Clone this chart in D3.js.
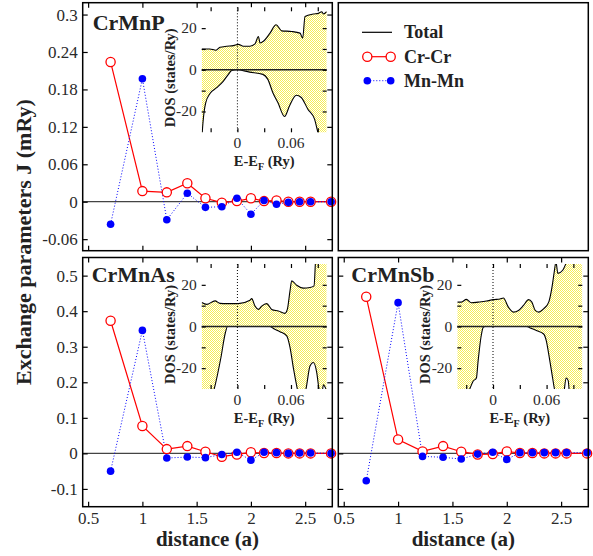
<!DOCTYPE html>
<html>
<head>
<meta charset="utf-8">
<script src="https://cdn.jsdelivr.net/npm/d3@7"></script>
<style>
  body { margin: 0; background: #fff; }
  svg { display: block; font-family: "Liberation Serif", "Times New Roman", serif; }
</style>
</head>
<body>
<div id="chart"></div>
<script>
// neighbour shell distances, units of a
const distances = [0.707, 1, 1.225, 1.414, 1.581, 1.732, 1.871, 2, 2.121, 2.236, 2.345, 2.449, 2.55, 2.739];

// exchange parameters J (mRy)
const crmnpCrCr = [0.224, 0.017, 0.015, 0.0295, 0.0055, -0.0015, 0.001, 0.0055, 0.001, 0.002, 0, 0, 0, 0];
const crmnpMnMn = [-0.036, 0.197, -0.029, 0.0135, -0.009, -0.008, 0.0055, -0.020, 0.002, -0.004, -0.001, 0, 0, 0];
const crmnasCrCr = [0.373, 0.077, 0.012, 0.0205, 0.0047, -0.0094, -0.003, 0.003, 0.001, 0.001, 0, 0, 0, 0];
const crmnasMnMn = [-0.050, 0.346, -0.013, -0.0104, -0.012, -0.003, 0.003, -0.019, 0.003, 0.002, 0, 0.001, 0.001, 0];
const crmnsbCrCr = [0.4405, 0.039, 0.0056, 0.0205, 0.0047, -0.003, -0.002, 0.0056, 0.001, 0.001, 0, 0, 0, 0];
const crmnsbMnMn = [-0.077, 0.424, -0.0085, -0.011, -0.016, -0.002, 0.003, -0.017, 0.002, 0.002, 0.002, 0.002, 0.002, 0.002];

// total DOS insets (states/Ry) vs E-EF (Ry), majority (up) and minority (down)
const crmnpUpE = [-0.04, -0.031, -0.024, -0.0195, -0.012, -0.0045, 0.001, 0.0067, 0.0141, 0.0197, 0.0235, 0.0253, 0.0291, 0.0365, 0.0433, 0.0496, 0.0608, 0.0701, 0.0731, 0.0757, 0.0851, 0.0907, 0.0944, 0.0963, 0.1];
const crmnpUp = [10, 10, 9.4, 10.8, 11.3, 11.6, 12.2, 11.3, 11.3, 12.4, 16, 12.9, 13.7, 17.6, 21.6, 18.7, 18.4, 17.6, 15.2, 25.6, 26.8, 27.1, 27.9, 26.8, 27.9];
const crmnpDnE = [-0.04, -0.0385, -0.0356, -0.0307, -0.0232, -0.0157, -0.0101, -0.0064, -0.0008, 0.0136, 0.0285, 0.0341, 0.0397, 0.0453, 0.0528, 0.0584, 0.0659, 0.0715, 0.0789, 0.0864, 0.0901, 0.1];
const crmnpDn = [-34, -25, -16, -11.4, -8.6, -5.4, -2.2, -0.3, 0, -1.1, -2.2, -4.6, -11, -15.7, -22.4, -17.3, -12.2, -13.3, -18.9, -23.7, -30, -40];

const crmnasUpE = [-0.04, -0.0344, -0.0251, -0.0195, -0.012, 0.0011, 0.0141, 0.016, 0.0197, 0.0235, 0.0272, 0.0328, 0.0384, 0.0459, 0.0533, 0.0559, 0.0589, 0.0608, 0.0664, 0.0739, 0.0813, 0.0858, 0.088, 0.1];
const crmnasUp = [11.5, 10.6, 12.3, 11.1, 11, 11, 12.6, 13.4, 9.8, 8.2, 9.8, 11, 8.2, 7.4, 6.3, 8.2, 17.1, 21.9, 19.8, 18.4, 18.7, 19.5, 34, 40];
const crmnasDnE = [-0.04, -0.026, -0.0185, -0.0135, -0.011, 0.0365, 0.0403, 0.0477, 0.0552, 0.0589, 0.0627, 0.0671, 0.0701, 0.0768, 0.0813, 0.085, 0.0888, 0.0914, 0.0944, 0.0963, 0.1];
const crmnasDn = [-45, -30, -15, -3, 0, 0, -1, -2.5, -4.5, -10, -20, -30, -36, -30, -19, -17.3, -22, -30, -33, -28, -31];

const crmnsbUpE = [-0.04, -0.0355, -0.0298, -0.0242, -0.0167, -0.0073, 0.0003, 0.0078, 0.0116, 0.0172, 0.0228, 0.0285, 0.0341, 0.0398, 0.0435, 0.0473, 0.0511, 0.0567, 0.0624, 0.0661, 0.0685, 0.0705, 0.0726, 0.078, 0.0835, 0.1];
const crmnsbUp = [11.7, 11.7, 13, 11.4, 11.7, 12.2, 12.9, 13.2, 13.7, 9.3, 6.9, 7.7, 10.1, 12.9, 11.7, 7.7, 6.9, 8.5, 11.7, 19, 26, 31, 25.5, 27, 32, 40];
const crmnsbDnE = [-0.04, -0.0261, -0.0223, -0.0186, -0.0167, -0.0129, -0.011, -0.0091, 0.0379, 0.0417, 0.0492, 0.0567, 0.0597, 0.0624, 0.0661, 0.0688, 0.0736, 0.0793, 0.0819, 0.0842, 0.0861, 0.1];
const crmnsbDn = [-40, -30, -26.3, -24.7, -16.6, -3.6, -0.4, 0, 0, -0.7, -2, -3.6, -6.9, -13.3, -23, -30, -38, -32, -24.7, -26, -34, -40];

// ticks
const xTicks = [0.5, 1, 1.5, 2, 2.5];
const crmnpYTicks = [-0.06, 0, 0.06, 0.12, 0.18, 0.24, 0.3];
const crmnasYTicks = [-0.1, 0, 0.1, 0.2, 0.3, 0.4, 0.5];
const insetXTicks = [-0.03, 0, 0.03, 0.06, 0.09];
const insetXLabels = [0, 0.06];
const insetYTicks = [-20, -10, 0, 10, 20];
const insetYLabels = [-20, 0, 20];
const legendLabels = ["Total", "Cr-Cr", "Mn-Mn"];

const W = 593, H = 556;
const svg = d3.select("#chart").append("svg").attr("width", W).attr("height", H);

// dotted yellow fill for DOS
const pat = svg.append("defs").append("pattern")
  .attr("id", "dots").attr("width", 2).attr("height", 2).attr("patternUnits", "userSpaceOnUse");
pat.append("rect").attr("width", 2).attr("height", 2).attr("fill", "#ffffff");
pat.append("rect").attr("width", 1).attr("height", 1).attr("fill", "#f7ee55");
pat.append("rect").attr("x", 1).attr("y", 1).attr("width", 1).attr("height", 1).attr("fill", "#f7ee55");

const fmt = d => String(+d.toFixed(2));
const xDomain = [0.45, 2.75];

function ticksOnly(g) {
  g.select(".domain").remove();
  g.selectAll("line").attr("stroke", "#000").attr("stroke-width", 1.2);
}

function drawPanel(p) {
  const x = d3.scaleLinear().domain(xDomain).range([p.x0, p.x1]);
  const y = d3.scaleLinear().domain(p.yDomain).range([p.y1, p.y0]);
  const g = svg.append("g");

  if (p.cr) {
    // zero line
    g.append("line").attr("x1", p.x0).attr("x2", p.x1).attr("y1", y(0)).attr("y2", y(0))
      .attr("stroke", "#444").attr("stroke-width", 1.3);

    // ticks
    g.append("g").attr("transform", `translate(0,${p.y1})`)
      .call(d3.axisBottom(x).tickValues(xTicks).tickSize(-5).tickPadding(5)
        .tickFormat(p.xLabels ? fmt : ""))
      .call(ticksOnly);
    g.append("g").attr("transform", `translate(0,${p.y0})`)
      .call(d3.axisTop(x).tickValues(xTicks).tickSize(-5).tickFormat("")).call(ticksOnly);
    g.append("g").attr("transform", `translate(${p.x0},0)`)
      .call(d3.axisLeft(y).tickValues(p.yTicks).tickSize(-5).tickPadding(5)
        .tickFormat(p.yLabels ? fmt : ""))
      .call(ticksOnly);
    g.append("g").attr("transform", `translate(${p.x1},0)`)
      .call(d3.axisRight(y).tickValues(p.yTicks).tickSize(-5).tickFormat("")).call(ticksOnly);
    g.selectAll(".tick text").attr("font-family", "Liberation Serif").attr("font-size", 17).attr("fill", "#2a2a2a");

    // Cr-Cr and Mn-Mn
    const cr = distances.map((d, i) => [d, p.cr[i]]);
    const mn = distances.map((d, i) => [d, p.mn[i]]);
    const line = d3.line().x(d => x(d[0])).y(d => y(d[1]));
    g.append("path").attr("d", line(cr)).attr("fill", "none").attr("stroke", "#ff0000").attr("stroke-width", 1.2);
    g.append("path").attr("d", line(mn)).attr("fill", "none").attr("stroke", "#0000ff")
      .attr("stroke-width", 1).attr("stroke-dasharray", "1,2");
    g.selectAll(".cr").data(cr).join("circle")
      .attr("cx", d => x(d[0])).attr("cy", d => y(d[1])).attr("r", 4.6)
      .attr("fill", "#fff").attr("stroke", "#ff0000").attr("stroke-width", 1.3);
    g.selectAll(".mn").data(mn).join("circle")
      .attr("cx", d => x(d[0])).attr("cy", d => y(d[1])).attr("r", 3.8)
      .attr("fill", "#0000ff");

    g.append("text").attr("x", p.x0 + p.nameDx).attr("y", p.y0 + p.nameDy)
      .attr("font-size", 22).attr("font-weight", "bold").attr("fill", "#222").text(p.name);

    drawInset(p.x0 + 119, p.y0 + (p.insetTop || 5), p.dos);
  }

  g.append("rect").attr("x", p.x0).attr("y", p.y0).attr("width", p.x1 - p.x0).attr("height", p.y1 - p.y0)
    .attr("fill", "none").attr("stroke", "#000").attr("stroke-width", 1.5);
}

let clipId = 0;
function drawInset(ix, iy, dos) {
  const w = 125, h = 125;
  const x = d3.scaleLinear().domain([-0.04, 0.10]).range([ix, ix + w]);
  const y = d3.scaleLinear().domain([-30, 30]).range([iy + h, iy]);
  const g = svg.append("g");
  const id = "clip" + (clipId++);
  g.append("clipPath").attr("id", id).append("rect").attr("x", ix).attr("y", iy).attr("width", w).attr("height", h);
  g.append("rect").attr("x", ix).attr("y", iy).attr("width", w).attr("height", h).attr("fill", "#fff");

  const up = dos.upE.map((e, i) => [e, dos.up[i]]);
  const dn = dos.dnE.map((e, i) => [e, dos.dn[i]]);
  const area = d3.area().x(d => x(d[0])).y0(y(0)).y1(d => y(d[1])).curve(d3.curveMonotoneX);
  const line = d3.line().x(d => x(d[0])).y(d => y(d[1])).curve(d3.curveMonotoneX);
  const c = g.append("g").attr("clip-path", `url(#${id})`);
  c.append("path").attr("d", area(up)).attr("fill", "url(#dots)");
  c.append("path").attr("d", area(dn)).attr("fill", "url(#dots)");
  c.append("path").attr("d", line(up)).attr("fill", "none").attr("stroke", "#000").attr("stroke-width", 1.1);
  c.append("path").attr("d", line(dn)).attr("fill", "none").attr("stroke", "#000").attr("stroke-width", 1.1);

  g.append("line").attr("x1", ix).attr("x2", ix + w).attr("y1", y(0)).attr("y2", y(0))
    .attr("stroke", "#222").attr("stroke-width", 1.4);
  g.append("line").attr("x1", x(0)).attr("x2", x(0)).attr("y1", iy).attr("y2", iy + h)
    .attr("stroke", "#000").attr("stroke-width", 1).attr("stroke-dasharray", "1,2");

  g.append("g").attr("transform", `translate(0,${iy + h})`)
    .call(d3.axisBottom(x).tickValues(insetXTicks).tickSize(-4).tickFormat("")).call(ticksOnly);
  g.append("g").attr("transform", `translate(0,${iy})`)
    .call(d3.axisTop(x).tickValues(insetXTicks).tickSize(-4).tickFormat("")).call(ticksOnly);
  g.append("g").attr("transform", `translate(${ix},0)`)
    .call(d3.axisLeft(y).tickValues(insetYTicks).tickSize(-4).tickFormat("")).call(ticksOnly);
  g.append("g").attr("transform", `translate(${ix + w},0)`)
    .call(d3.axisRight(y).tickValues(insetYTicks).tickSize(-4).tickFormat("")).call(ticksOnly);

  g.selectAll(".xl").data(insetXLabels).join("text")
    .attr("x", d => x(d)).attr("y", iy + h + 16).attr("text-anchor", "middle")
    .attr("font-size", 15.5).attr("fill", "#2a2a2a").text(fmt);
  g.selectAll(".yl").data(insetYLabels).join("text")
    .attr("x", ix - 5).attr("y", d => y(d) + 5).attr("text-anchor", "end")
    .attr("font-size", 15.5).attr("fill", "#2a2a2a").text(d => String(d));

  const t = g.append("text").attr("x", ix + w / 2).attr("y", iy + h + 34).attr("text-anchor", "middle")
    .attr("font-size", 14.5).attr("font-weight", "bold").attr("fill", "#222");
  t.append("tspan").text("E-E");
  t.append("tspan").attr("font-size", 10).attr("dy", 4).text("F");
  t.append("tspan").attr("dy", -4).text(" (Ry)");

  g.append("text").attr("transform", `translate(${ix - 27},${iy + h / 2 + 8}) rotate(-90)`)
    .attr("text-anchor", "middle").attr("font-size", 14.5).attr("font-weight", "bold").attr("fill", "#222")
    .text("DOS (states/Ry)");
}

const L = [82.7, 332.3], R = [338.3, 588.3], T = [2.7, 250.7], B = [257.5, 506.7];

drawPanel({ x0: L[0], x1: L[1], y0: T[0], y1: T[1], yDomain: [-0.0785, 0.319], yTicks: crmnpYTicks,
  yLabels: true, xLabels: false, name: "CrMnP", nameDx: 10, nameDy: 27.5, cr: crmnpCrCr, mn: crmnpMnMn, insetTop: 4.6,
  dos: { upE: crmnpUpE, up: crmnpUp, dnE: crmnpDnE, dn: crmnpDn } });
drawPanel({ x0: R[0], x1: R[1], y0: T[0], y1: T[1], yDomain: [-0.0785, 0.319] });
drawPanel({ x0: L[0], x1: L[1], y0: B[0], y1: B[1], yDomain: [-0.15, 0.551], yTicks: crmnasYTicks,
  yLabels: true, xLabels: true, name: "CrMnAs", nameDx: 9, nameDy: 24, cr: crmnasCrCr, mn: crmnasMnMn, insetTop: 6.5,
  dos: { upE: crmnasUpE, up: crmnasUp, dnE: crmnasDnE, dn: crmnasDn } });
drawPanel({ x0: R[0], x1: R[1], y0: B[0], y1: B[1], yDomain: [-0.15, 0.551], yTicks: crmnasYTicks,
  yLabels: false, xLabels: true, name: "CrMnSb", nameDx: 13, nameDy: 24, cr: crmnsbCrCr, mn: crmnsbMnMn, insetTop: 6.5,
  dos: { upE: crmnsbUpE, up: crmnsbUp, dnE: crmnsbDnE, dn: crmnsbDn } });

// legend in the empty panel
const lg = svg.append("g").attr("font-size", 18).attr("font-weight", "bold").attr("fill", "#222");
const ly = [32.3, 56.7, 80.7];
lg.append("line").attr("x1", 362).attr("x2", 392).attr("y1", ly[0]).attr("y2", ly[0]).attr("stroke", "#000").attr("stroke-width", 1.2);
lg.append("line").attr("x1", 367.3).attr("x2", 390.7).attr("y1", ly[1]).attr("y2", ly[1]).attr("stroke", "#ff0000").attr("stroke-width", 1.2);
lg.selectAll(".lc").data([367.3, 390.7]).join("circle").attr("cx", d => d).attr("cy", ly[1]).attr("r", 4.6)
  .attr("fill", "#fff").attr("stroke", "#ff0000").attr("stroke-width", 1.3);
lg.append("line").attr("x1", 367.3).attr("x2", 390.7).attr("y1", ly[2]).attr("y2", ly[2]).attr("stroke", "#0000ff")
  .attr("stroke-width", 1).attr("stroke-dasharray", "1,2");
lg.selectAll(".lm").data([367.3, 390.7]).join("circle").attr("cx", d => d).attr("cy", ly[2]).attr("r", 3.8).attr("fill", "#0000ff");
lg.selectAll("text").data(legendLabels).join("text").attr("x", 404).attr("y", (d, i) => ly[i] + 6).text(d => d);

// axis titles
svg.append("text").attr("transform", "translate(31,242) rotate(-90)").attr("text-anchor", "middle")
  .attr("font-size", 22).attr("font-weight", "bold").attr("fill", "#222").text("Exchange parameters  J (mRy)");
svg.selectAll(".xt").data([(L[0] + L[1]) / 2, (R[0] + R[1]) / 2]).join("text")
  .attr("x", d => d).attr("y", 546).attr("text-anchor", "middle")
  .attr("font-size", 21).attr("font-weight", "bold").attr("fill", "#222").text("distance (a)");
</script>
</body>
</html>
